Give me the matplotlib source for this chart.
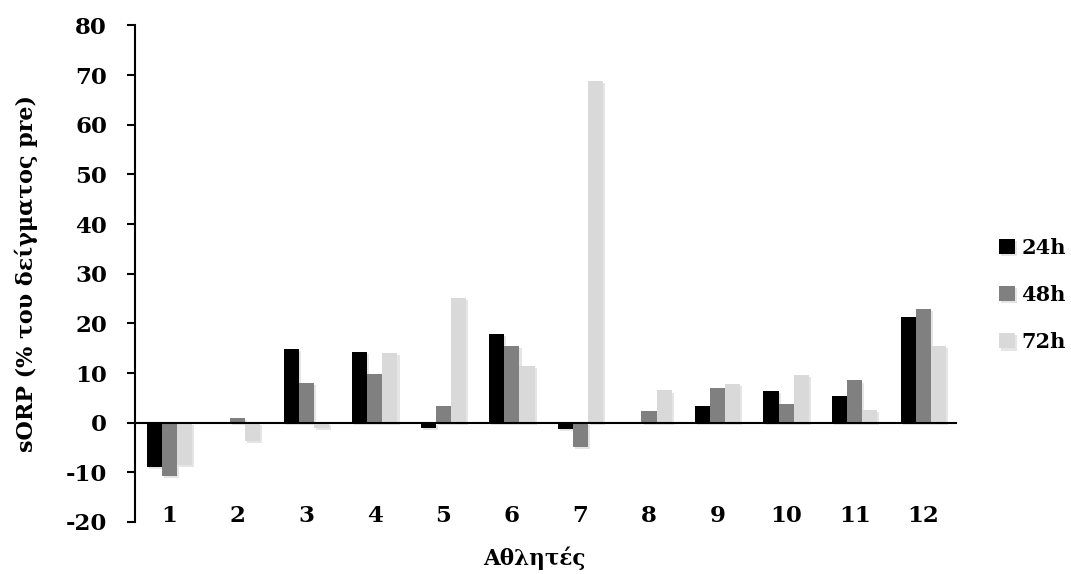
import numpy as np
import matplotlib.pyplot as plt
import matplotlib.patheffects as pe

# Τιμές του γραφήματος
athletes = ['1', '2', '3', '4', '5', '6', '7', '8', '9', '10', '11', '12']
v24 = [-9.0, 0.0, 14.9, 14.3, -1.1, 17.9, -1.3, 0.0, 3.4, 6.4, 5.4, 21.3]
v48 = [-10.7, 0.9, 8.0, 9.8, 3.3, 15.5, -4.8, 2.4, 6.9, 3.8, 8.5, 22.9]
v72 = [-8.5, -3.7, -1.1, 14.0, 25.2, 11.5, 68.9, 6.5, 7.8, 9.7, 2.5, 15.4]
labels = ['24h', '48h', '72h']
colors = ['#000000', '#808080', '#d9d9d9']

plt.rcParams['font.family'] = ['DejaVu Serif']
plt.rcParams['font.weight'] = 'bold'
plt.rcParams['axes.unicode_minus'] = False

fig = plt.figure(figsize=(10.71, 5.74), dpi=100)
ax = fig.add_axes([0.126, 0.0906, 0.768, 0.865])

x = np.arange(1, len(athletes) + 1)
w = 0.22
shadow = [pe.SimplePatchShadow(offset=(1.5, -1.5), alpha=0.1, shadow_rgbFace='k'), pe.Normal()]
handles = []
for i, (vals, lab, col) in enumerate(zip([v24, v48, v72], labels, colors)):
    b = ax.bar(x + (i - 1) * w, vals, width=w, color=col, label=lab, zorder=2)
    for p in b:
        p.set_path_effects(shadow)
    handles.append(b)

# άξονας x στο μηδέν
ax.axhline(0, color='black', lw=1.5, zorder=3)
ax.set_xlim(0.5, 12.5)
ax.set_ylim(-20, 80)
ax.set_yticks(range(-20, 81, 10))
ax.set_xticks(x)
ax.set_xticklabels(athletes)
ax.tick_params(axis='x', length=0, pad=-12, labelsize=16.5)
ax.tick_params(axis='y', length=6, width=1.5, pad=14, labelsize=16.5)
for s in ['top', 'right', 'bottom']:
    ax.spines[s].set_visible(False)
ax.spines['left'].set_linewidth(1.5)

ax.set_xlabel('Αθλητές', fontsize=15.5, fontweight='bold')
ax.xaxis.set_label_coords(0.486, -0.05)
ax.set_ylabel('sORP (% του δείγματος pre)', fontsize=16, fontweight='bold')
ax.yaxis.set_label_coords(-0.118, 0.5)

fig.legend(handles=handles, labels=labels, loc='center left', bbox_to_anchor=(0.9155, 0.486),
           frameon=False, fontsize=15, handlelength=0.75, handleheight=0.75,
           handletextpad=0.3, labelspacing=1.3)

plt.savefig('out.png', dpi=100)
